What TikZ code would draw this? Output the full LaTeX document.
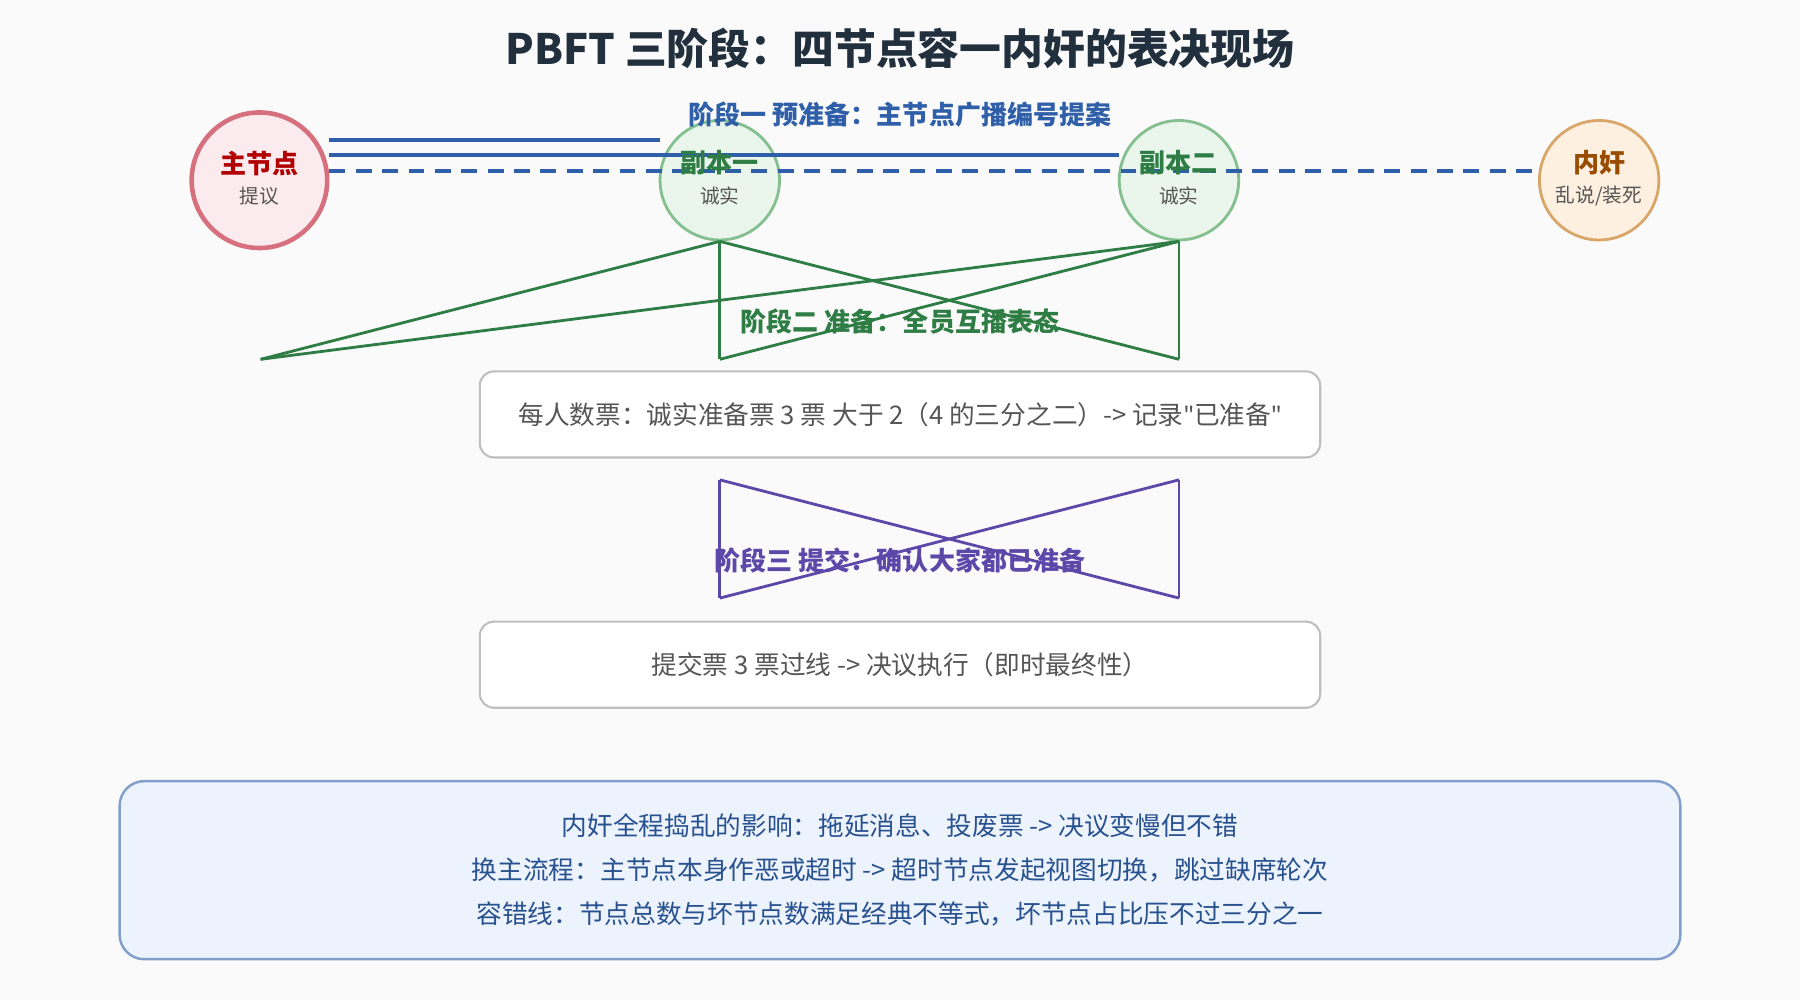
\documentclass[tikz,border=0pt]{standalone}
\usepackage{fontspec}
\setmainfont{Noto Sans CJK SC}
\newfontfamily\latinfont{Noto Sans}
\usepackage{xcolor}
\definecolor{pageBg}{HTML}{FAFAFA}
\definecolor{titleInk}{HTML}{22303E}
\definecolor{stageBlue}{HTML}{2F5FA8}
\definecolor{stageGreen}{HTML}{2E7D45}
\definecolor{stagePurple}{HTML}{5B48A8}
\definecolor{textGray}{HTML}{555555}
\definecolor{leaderRing}{HTML}{D6707F}
\definecolor{leaderFill}{HTML}{FBEAEE}
\definecolor{replicaRing}{HTML}{84C08F}
\definecolor{replicaFill}{HTML}{EAF5EC}
\definecolor{traitorRing}{HTML}{D9A66A}
\definecolor{traitorFill}{HTML}{FDF0E0}
\definecolor{noteFill}{HTML}{EDF3FC}

\tikzset{
  peer/.style={circle,draw,line width=0.8pt,inner sep=0pt},
  peerName/.style={font=\fontsize{7.4}{8}\selectfont\bfseries},
  peerRole/.style={font=\fontsize{5.6}{6}\selectfont,text=textGray},
  stageLabel/.style={font=\fontsize{7.4}{8}\selectfont\bfseries},
  tallyBox/.style={draw=black!25,fill=white,rounded corners=4pt,minimum width=8.4cm,minimum height=0.86cm,
                   font=\fontsize{7.3}{8}\selectfont,text=textGray,line width=0.6pt},
}
\newcommand{\dq}{{\latinfont\symbol{34}}}

\begin{document}
\begin{tikzpicture}[x=0.01148cm,y=-0.01148cm]
  \fill[pageBg] (0,0) rectangle (1568,871);
  \useasboundingbox (0,0) rectangle (1568,871);

  \node[font=\fontsize{11.9}{13}\selectfont\bfseries,text=titleInk] (Title) at (784,42) {PBFT 三阶段：四节点容一内奸的表决现场};

  % Nodes
  \node[peer,minimum size=1.355cm,draw=leaderRing,fill=leaderFill,line width=1.3pt] (Leader) at (226,157) {};
  \node[peerName,text=red!70!black] at (226,142) {主节点};
  \node[peerRole] at (226,171) {提议};

  \node[peer,minimum size=1.194cm,draw=replicaRing,fill=replicaFill] (ReplicaA) at (627,157) {};
  \node[peer,minimum size=1.194cm,draw=replicaRing,fill=replicaFill] (ReplicaB) at (1027,157) {};
  \node[peer,minimum size=1.194cm,draw=traitorRing,fill=traitorFill] (Traitor) at (1393,157) {};

  % Stage one
  \coordinate (OneA) at (287,122);  \coordinate (OneAEnd) at (575,122);
  \coordinate (OneB) at (287,135);  \coordinate (OneBEnd) at (975,135);
  \coordinate (OneC) at (287,149);  \coordinate (OneCEnd) at (1341,149);
  \draw[-,draw=stageBlue,line width=1.3pt] (OneA) to (OneAEnd);
  \draw[-,draw=stageBlue,line width=1.3pt] (OneB) to (OneBEnd);
  \draw[-,draw=stageBlue,line width=1.3pt,dashed,dash pattern=on 4.5pt off 3pt] (OneC) to (OneCEnd);
  \node[stageLabel,text=stageBlue] (StageOne) at (784,100) {阶段一 预准备：主节点广播编号提案};

  \node[peerName,text=stageGreen] at (627,142) {副本一};
  \node[peerRole] at (627,171) {诚实};
  \node[peerName,text=stageGreen] at (1027,142) {副本二};
  \node[peerRole] at (1027,171) {诚实};
  \node[peerName,text=orange!60!black] at (1393,142) {内奸};
  \node[peerRole] at (1393,171) {乱说/装死};

  % Stage two
  \coordinate (TwoL) at (227,313);
  \coordinate (TwoA) at (627,313);
  \coordinate (TwoB) at (1027,313);
  \draw[-,draw=stageGreen,thick] (ReplicaA.south) to (TwoL);
  \draw[-,draw=stageGreen,thick] (ReplicaB.south) to (TwoL);
  \draw[-,draw=stageGreen,thick] (ReplicaA.south) to (TwoA);
  \draw[-,draw=stageGreen,thick] (ReplicaA.south) to (TwoB);
  \draw[-,draw=stageGreen,thick] (ReplicaB.south) to (TwoA);
  \draw[-,draw=stageGreen,thick] (ReplicaB.south) to (TwoB);
  \node[stageLabel,text=stageGreen] (StageTwo) at (784,280) {阶段二 准备：全员互播表态};

  \node[tallyBox] (PrepareTally) at (784,361) {每人数票：诚实准备票 3 票 大于 2（4 的三分之二）-> 记录\dq 已准备\dq};

  % Stage three
  \coordinate (ThreeA) at (627,418);  \coordinate (ThreeAEnd) at (627,521);
  \coordinate (ThreeB) at (1027,418); \coordinate (ThreeBEnd) at (1027,521);
  \draw[-,draw=stagePurple,thick] (ThreeA) to (ThreeAEnd);
  \draw[-,draw=stagePurple,thick] (ThreeB) to (ThreeBEnd);
  \draw[-,draw=stagePurple,thick] (ThreeA) to (ThreeBEnd);
  \draw[-,draw=stagePurple,thick] (ThreeB) to (ThreeAEnd);
  \node[stageLabel,text=stagePurple] (StageThree) at (784,488) {阶段三 提交：确认大家都已准备};

  \node[tallyBox] (CommitTally) at (784,579) {提交票 3 票过线 -> 决议执行（即时最终性）};

  % Summary
  \node[draw=stageBlue!60,fill=noteFill,rounded corners=7pt,minimum width=15.6cm,minimum height=1.78cm,
        line width=0.7pt,align=center,text=stageBlue!85!black,font=\fontsize{7.3}{12.5}\selectfont] (Summary) at (784,758)
    {内奸全程捣乱的影响：拖延消息、投废票 -> 决议变慢但不错\\
     换主流程：主节点本身作恶或超时 -> 超时节点发起视图切换，跳过缺席轮次\\
     容错线：节点总数与坏节点数满足经典不等式，坏节点占比压不过三分之一};
\end{tikzpicture}
\end{document}
